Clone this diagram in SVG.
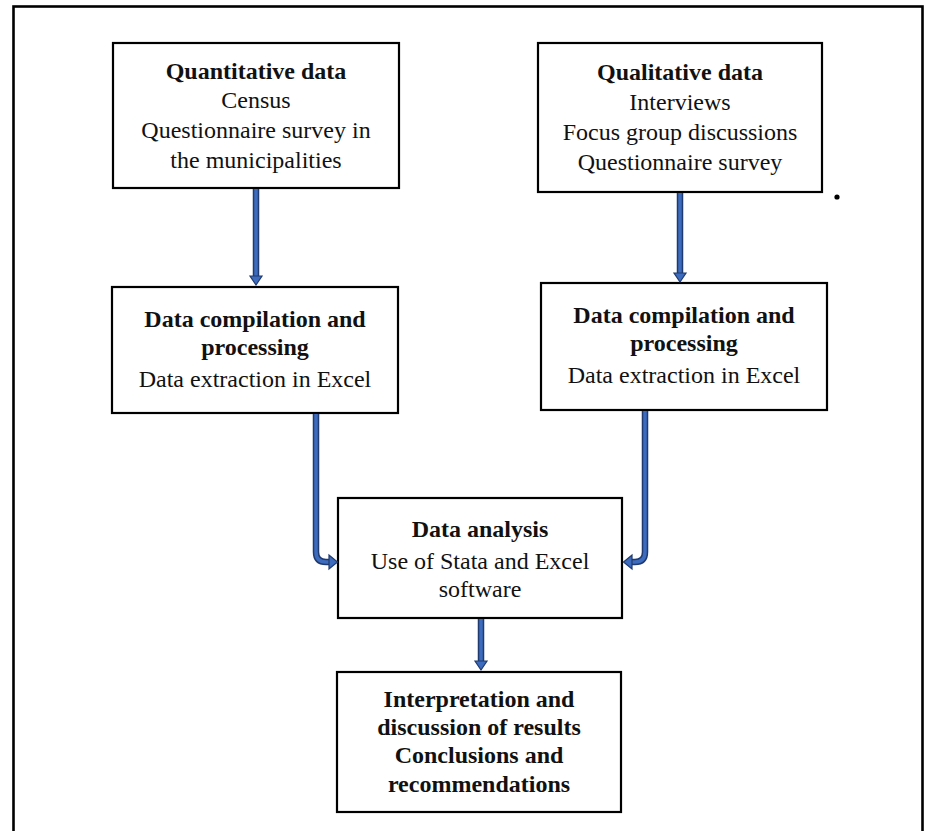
<svg xmlns="http://www.w3.org/2000/svg" width="925" height="831" viewBox="0 0 925 831">
  <style>
    .frame { fill: none; stroke: #000; stroke-width: 2.6; }
    .box { fill: #fff; stroke: #000; stroke-width: 2.2; }
    text { font-family: "Liberation Serif", "Times New Roman", serif; font-size: 24px; fill: #111; text-anchor: middle; }
    .b { font-weight: bold; }
    .shaft-out { fill: none; stroke: #1f3a6e; stroke-width: 6.5; }
    .shaft-in { fill: none; stroke: #3d6bbd; stroke-width: 3.5; }
    .head { fill: #3d6bbd; stroke: #1f3a6e; stroke-width: 1.2; stroke-linejoin: miter; }
  </style>

  <rect class="frame" x="13.5" y="6.5" width="909" height="840"/>

  <g id="quantitative">
    <rect class="box" x="113" y="43" width="286" height="145"/>
    <text class="b" x="256" y="79">Quantitative data</text>
    <text x="256" y="108">Census</text>
    <text x="256" y="138">Questionnaire survey in</text>
    <text x="256" y="168">the municipalities</text>
  </g>

  <g id="qualitative">
    <rect class="box" x="538" y="43" width="284" height="149"/>
    <text class="b" x="680" y="80">Qualitative data</text>
    <text x="680" y="110">Interviews</text>
    <text x="680" y="140">Focus group discussions</text>
    <text x="680" y="170">Questionnaire survey</text>
  </g>

  <g id="compile-quant">
    <rect class="box" x="112" y="287" width="286" height="126"/>
    <text class="b" x="255" y="327">Data compilation and</text>
    <text class="b" x="255" y="355">processing</text>
    <text x="255" y="387">Data extraction in Excel</text>
  </g>

  <g id="compile-qual">
    <rect class="box" x="541" y="283" width="286" height="127"/>
    <text class="b" x="684" y="323">Data compilation and</text>
    <text class="b" x="684" y="351">processing</text>
    <text x="684" y="383">Data extraction in Excel</text>
  </g>

  <g id="analysis">
    <rect class="box" x="338" y="498" width="284" height="120"/>
    <text class="b" x="480" y="537">Data analysis</text>
    <text x="480" y="569">Use of Stata and Excel</text>
    <text x="480" y="597">software</text>
  </g>

  <g id="interpretation">
    <rect class="box" x="337" y="672" width="284" height="140"/>
    <text class="b" x="479" y="707">Interpretation and</text>
    <text class="b" x="479" y="735">discussion of results</text>
    <text class="b" x="479" y="763">Conclusions and</text>
    <text class="b" x="479" y="792">recommendations</text>
  </g>

  <circle cx="837" cy="197" r="2.6" fill="#000"/>

  <g id="connectors">
    <!-- quantitative -> compilation -->
    <path class="shaft-out" d="M256 189 V277"/>
    <path class="shaft-in" d="M256 189 V277"/>
    <polygon class="head" points="250,276 262,276 256,285"/>

    <!-- qualitative -> compilation -->
    <path class="shaft-out" d="M680 193 V274"/>
    <path class="shaft-in" d="M680 193 V274"/>
    <polygon class="head" points="674,273 686,273 680,282"/>

    <!-- left compilation -> analysis (bent) -->
    <path class="shaft-out" d="M316 414 V552 Q316 562 326 562 H330"/>
    <path class="shaft-in" d="M316 414 V552 Q316 562 326 562 H330"/>
    <polygon class="head" points="329,555 329,569 337.5,562"/>

    <!-- right compilation -> analysis (bent) -->
    <path class="shaft-out" d="M645 411 V552 Q645 562 635 562 H631"/>
    <path class="shaft-in" d="M645 411 V552 Q645 562 635 562 H631"/>
    <polygon class="head" points="632,555 632,569 623.5,562"/>

    <!-- analysis -> interpretation -->
    <path class="shaft-out" d="M481 619 V662"/>
    <path class="shaft-in" d="M481 619 V662"/>
    <polygon class="head" points="475,661 487,661 481,670"/>
  </g>
</svg>
